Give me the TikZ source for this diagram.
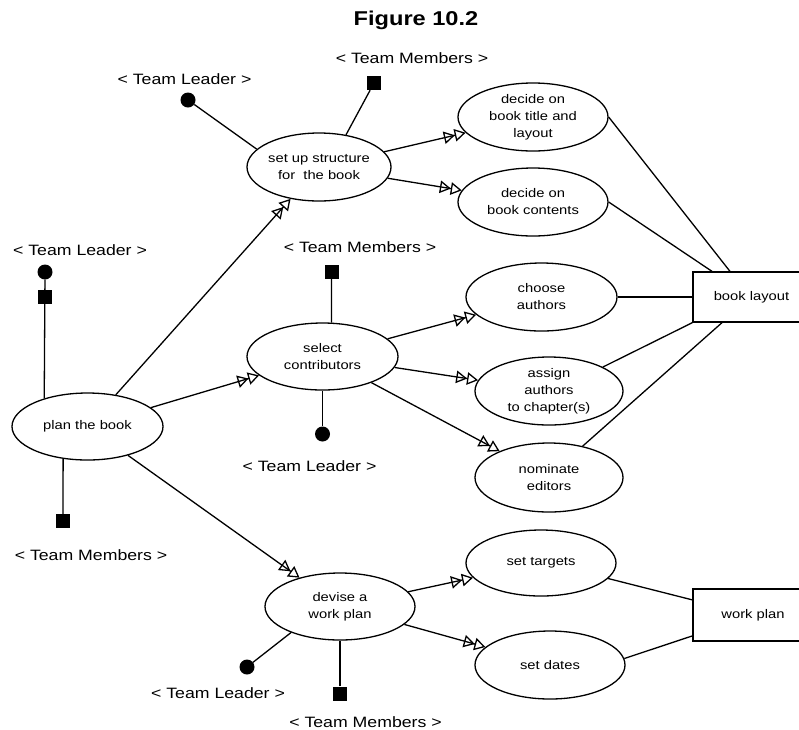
\documentclass[tikz,border=0pt]{standalone}
\usepackage{fontspec}
\setmainfont{Liberation Sans}[FakeStretch=1.18]
\usetikzlibrary{arrows.meta,shapes.geometric}
\begin{document}
\begin{tikzpicture}[x=1pt,y=-1pt,
  every node/.style={inner sep=0pt},
  usecase/.style 2 args={draw,ellipse,line width=1.3pt,minimum width=#1pt,
    minimum height=#2pt,align=center,font=\fontsize{12.5}{17}\selectfont},
  artefact/.style={draw,rectangle,line width=1.3pt,font=\fontsize{12.5}{17}\selectfont},
  leader/.style={circle,fill=black,minimum size=15pt},
  members/.style={rectangle,fill=black,minimum size=14pt},
  role/.style={font=\fontsize{15}{18}\selectfont},
  link/.style={line width=1.3pt},
  extend/.style={line width=1.3pt,
    -{Triangle[open,length=11pt,width=12.5pt] Triangle[open,length=11pt,width=12.5pt]}}
]
\clip (0,0) rectangle (799,729);

% title
\node[font=\bfseries\fontsize{20}{24}\selectfont] (fig) at (416,20) {Figure 10.2};

% use cases
\node[usecase={151}{67}] (plan) at (87.5,426.5) {plan the book};
\node[usecase={144}{68}] (setup) at (319,167) {set up structure\\for~ the book};
\node[usecase={150}{68}] (title) at (533,117) {decide on\\book title and\\layout};
\node[usecase={150}{68}] (contents) at (533,202) {decide on\\book contents};
\node[usecase={151}{68}] (choose) at (541.5,297) {choose\\authors};
\node[usecase={148}{68}] (assign) at (549,391) {assign\\authors\\to chapter(s)};
\node[usecase={148}{69}] (nominate) at (549,477.5) {nominate\\editors};
\node[usecase={151}{67}] (select) at (322.5,356.5) {select\\contributors};
\node[usecase={150}{67}] (devise) at (340,606.5) {devise a\\work plan};
\node[usecase={150}{66}] (targets) at (541,563) {set targets};
\node[usecase={150}{68}] (dates) at (550,665) {set dates};

% products
\node[artefact,minimum width=117pt,minimum height=50pt] (layout) at (751.5,297) {book layout};
\node[artefact,minimum width=120pt,minimum height=52pt] (workplan) at (753,615) {work plan};

% roles
\node[leader] (tlA) at (188,100) {};
\node[role] (tlAl) at (184.5,79) {< Team Leader >};
\node[members] (tmA) at (374,83) {};
\node[role] (tmAl) at (412,58) {< Team Members >};

\node[leader] (tlB) at (45,272) {};
\node[members] (tmB0) at (45,297) {};
\node[role] (tlBl) at (80,250) {< Team Leader >};
\node[members] (tmB) at (63,521) {};
\node[role] (tmBl) at (91,555) {< Team Members >};

\node[members] (tmC) at (331.5,271.5) {};
\node[role] (tmCl) at (360,247) {< Team Members >};
\node[leader] (tlC) at (322.5,434) {};
\node[role] (tlCl) at (309.5,466) {< Team Leader >};

\node[leader] (tlD) at (247,667) {};
\node[role] (tlDl) at (218,693) {< Team Leader >};
\node[members] (tmD) at (340,693.5) {};
\node[role] (tmDl) at (365.5,722) {< Team Members >};

% role links
\draw[link] (tlA) -- (setup.164.7);
\draw[link] (tmA) -- (setup.50.5);
\draw[link] (tlB) -- (plan.147.5);
\draw[link] (tmB) -- (plan.-127.5);
\draw[link] (tmC) -- (select.75.8);
\draw[link] (tlC) -- (select.south);
\draw[link] (tlD) -- (devise.-152.5);
\draw[link] (tmD) -- (devise.south);

% refinements
\draw[extend] (plan) -- (setup);
\draw[extend] (plan) -- (select);
\draw[extend] (plan) -- (devise);
\draw[extend] (setup) -- (title);
\draw[extend] (setup) -- (contents);
\draw[extend] (select) -- (choose);
\draw[extend] (select) -- (assign);
\draw[extend] (select) -- (nominate);
\draw[extend] (devise) -- (targets);
\draw[extend] (devise) -- (dates);

% outputs
\draw[link] (title.east) -- (layout.130.7);
\draw[link] (contents.east) -- (layout.147.7);
\draw[link] (choose.east) -- (layout.west);
\draw[link] (assign.24.8) -- (layout.south west);
\draw[link] (nominate.43.7) -- (layout.-139.7);
\draw[link] (targets.-13.4) -- (workplan.166);
\draw[link] (dates.5.3) -- (workplan.-161.6);
\end{tikzpicture}
\end{document}
